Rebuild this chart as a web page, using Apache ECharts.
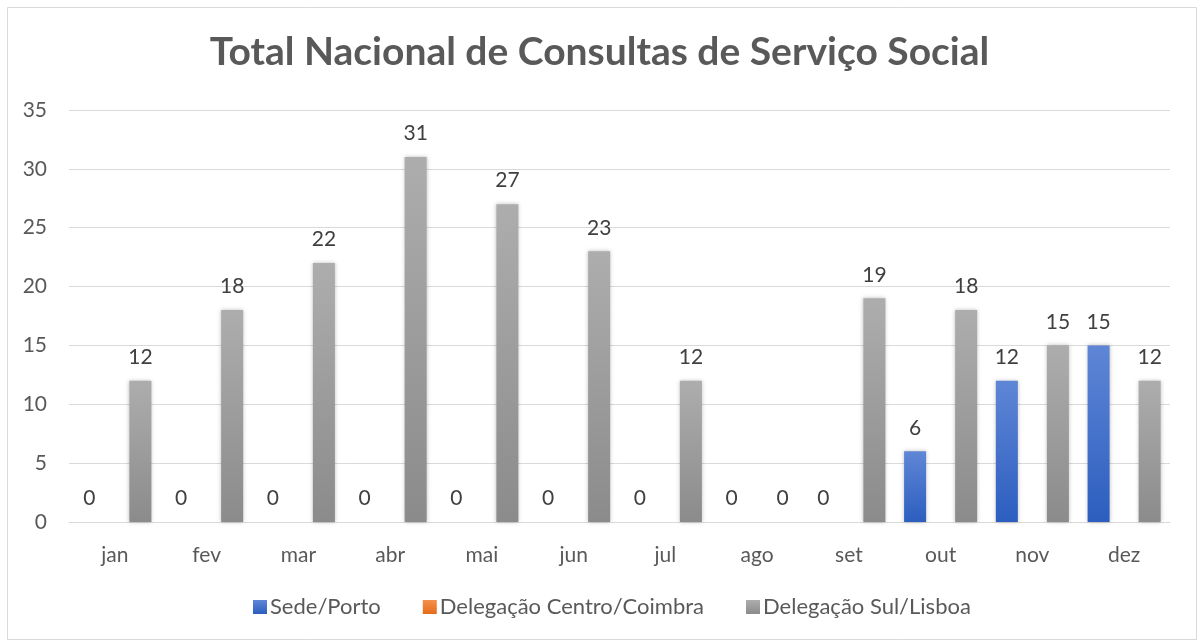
<!DOCTYPE html>
<html>
<head>
<meta charset="utf-8">
<script src="https://cdn.jsdelivr.net/npm/echarts@6/dist/echarts.min.js"></script>
<style>
  html, body { margin: 0; padding: 0; background: #fff; }
  #chart { width: 1199px; height: 643px; }
</style>
</head>
<body>
<div id="chart"></div>
<script>
const months = ['jan', 'fev', 'mar', 'abr', 'mai', 'jun', 'jul', 'ago', 'set', 'out', 'nov', 'dez'];
const sedePorto = [0, 0, 0, 0, 0, 0, 0, 0, 0, 6, 12, 15];
const centroCoimbra = [null, null, null, null, null, null, null, null, null, null, null, null];
const sulLisboa = [12, 18, 22, 31, 27, 23, 12, 0, 19, 18, 15, 12];
const yTicks = { min: 0, max: 35, interval: 5 };

const font = 'Lato, "Open Sans", sans-serif';
const txt = '#595959';

const grad = (top, bottom) => new echarts.graphic.LinearGradient(0, 0, 0, 1, [
  { offset: 0, color: top },
  { offset: 1, color: bottom }
]);

const label = {
  show: true,
  position: 'top',
  distance: 13,
  color: '#404040',
  fontSize: 21,
  fontFamily: font
};

const chart = echarts.init(document.getElementById('chart'));
chart.setOption({
  backgroundColor: '#fff',
  animation: false,
  title: {
    text: 'Total Nacional de Consultas de Serviço Social',
    left: 'center',
    top: 28,
    textStyle: { color: txt, fontSize: 39, fontWeight: 'bold', fontFamily: font }
  },
  legend: {
    bottom: 20,
    left: 248,
    itemWidth: 14,
    itemHeight: 14,
    itemGap: 42,
    icon: 'rect',
    textStyle: { color: txt, fontSize: 22, fontFamily: font, padding: [0, 0, 0, -2] }
  },
  graphic: [{
    type: 'rect',
    left: 5,
    top: 5,
    shape: { width: 1189, height: 632 },
    style: { fill: 'none', stroke: '#d9d9d9', lineWidth: 1 },
    silent: true
  }],
  grid: { left: 69, right: 29, top: 110, bottom: 121 },
  xAxis: {
    type: 'category',
    data: months,
    axisLine: { lineStyle: { color: '#d9d9d9', width: 1 } },
    axisTick: { show: false },
    axisLabel: { color: txt, fontSize: 21, fontFamily: font, margin: 23 }
  },
  yAxis: {
    type: 'value',
    min: yTicks.min,
    max: yTicks.max,
    interval: yTicks.interval,
    axisLine: { show: false },
    axisTick: { show: false },
    splitLine: { lineStyle: { color: '#d9d9d9', width: 1 } },
    axisLabel: { color: txt, fontSize: 21, fontFamily: font, margin: 22 }
  },
  series: [
    {
      name: 'Sede/Porto',
      type: 'bar',
      data: sedePorto,
      barWidth: 22,
      barGap: '16%',
      itemStyle: { color: grad('#5f86d6', '#2c5ebf'), shadowColor: 'rgba(0,0,0,0.25)', shadowBlur: 4 },
      label: label
    },
    {
      name: 'Delegação Centro/Coimbra',
      type: 'bar',
      data: centroCoimbra,
      barWidth: 22,
      itemStyle: { color: grad('#f4914a', '#e46c1a') },
      label: label
    },
    {
      name: 'Delegação Sul/Lisboa',
      type: 'bar',
      data: sulLisboa,
      barWidth: 22,
      itemStyle: { color: grad('#adadad', '#8b8b8b'), shadowColor: 'rgba(0,0,0,0.25)', shadowBlur: 4 },
      label: label
    }
  ]
});
</script>
</body>
</html>
